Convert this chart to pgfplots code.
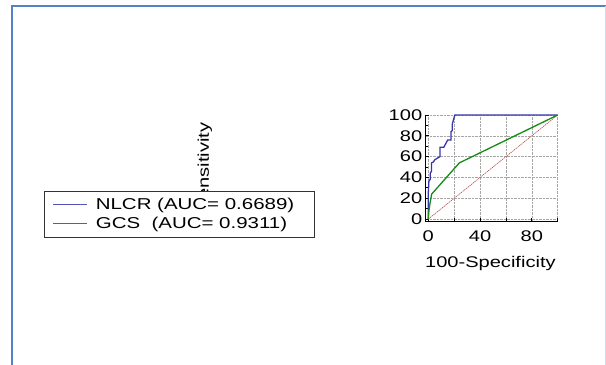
\documentclass[border=0pt]{standalone}
\usepackage{fontspec}
\setmainfont{Liberation Sans}[FakeStretch=1.3]
\usepackage{pgfplots}
\pgfplotsset{compat=1.18}
\definecolor{framebl}{RGB}{85,130,195}
\definecolor{framelt}{RGB}{205,218,232}
\definecolor{nlcr}{RGB}{55,55,170}
\definecolor{nlcrl}{RGB}{85,85,185}
\definecolor{gcs}{RGB}{20,140,20}
\definecolor{gcsl}{RGB}{30,150,30}
\definecolor{diag}{RGB}{170,60,60}
\begin{document}
\begin{tikzpicture}
\path[use as bounding box] (0bp,0bp) rectangle (606bp,365bp);
\fill[white] (0bp,0bp) rectangle (606bp,365bp);
\draw[framebl,line width=1.6bp] (12bp,0bp) -- (12bp,359bp) -- (606bp,359bp);
\draw[framelt,line width=1bp] (605bp,0bp) -- (605bp,359bp);
\begin{axis}[
  at={(425.7bp,143.3bp)}, anchor=south west,
  scale only axis, width=132bp, height=106.7bp,
  xmin=-2, xmax=100, ymin=-2.5, ymax=100,
  axis x line*=bottom, axis y line*=left,
  axis line style={line width=1.2bp, black, -},
  xtick={0,40,80}, ytick={0,20,40,60,80,100},
  extra x ticks={20,60,100}, extra x tick labels={},
  extra x tick style={grid=major},
  minor ytick={10,30,50,70,90},
  tick align=inside, major tick length=3.5bp, minor tick length=2.5bp,
  tick style={black, line width=0.8bp},
  grid=major,
  major grid style={gray!70, densely dotted, line width=0.6bp},
  /pgf/number format/assume math mode=true,
  ticklabel style={font=\fontsize{15.5}{17}\selectfont},
  xticklabel style={yshift=-5bp},
  xlabel={100-Specificity}, ylabel={Sensitivity},
  label style={font=\fontsize{15.5}{17}\selectfont},
  xlabel style={at={(rel axis cs:0.49,-0.39)}, anchor=center},
  ylabel style={at={(rel axis cs:-1.672,0.505)}, anchor=center},
  legend style={at={(rel axis cs:-2.889,0.2905)}, anchor=north west,
    draw=black!80, line width=0.8bp, fill=white,
    font=\fontsize{15.8}{17}\selectfont, inner xsep=8bp, inner ysep=5bp,
    row sep=2.5bp, /tikz/every odd column/.append style={column sep=6bp}},
  legend cell align=left,
]
\addlegendimage{nlcrl, line width=1.1bp, legend image code/.code={\draw[nlcrl, line width=1.1bp] (0bp,0bp) -- (34bp,0bp);}}
\addlegendentry{\makebox[209bp][l]{NLCR (AUC= 0.6689)}}
\addlegendimage{gcsl, line width=1.1bp, legend image code/.code={\draw[gcsl, line width=1.1bp] (0bp,0bp) -- (34bp,0bp);}}
\addlegendentry{\makebox[209bp][l]{GCS\ \ (AUC= 0.9311)}}
\addplot[nlcr, line width=1.3bp, forget plot] coordinates {
(0,0) (0,25) (0.5,37) (1.5,38) (1.5,44) (2.5,46) (2.5,54) (4,55) (5,57) (9,60) (9,69) (12,69) (15,76) (17.5,76) (17.5,84) (18.5,85) (18.5,91) (20.5,100) (100,100)};
\addplot[gcs, line width=1.3bp, forget plot] coordinates {
(0,0) (0.5,8) (1.3,15) (2.6,24) (24,54) (100,100)};
\addplot[diag, line width=0.5bp, dash pattern=on 1.5bp off 0.7bp, forget plot] coordinates {(0,0) (100,100)};
\end{axis}
\end{tikzpicture}
\end{document}
